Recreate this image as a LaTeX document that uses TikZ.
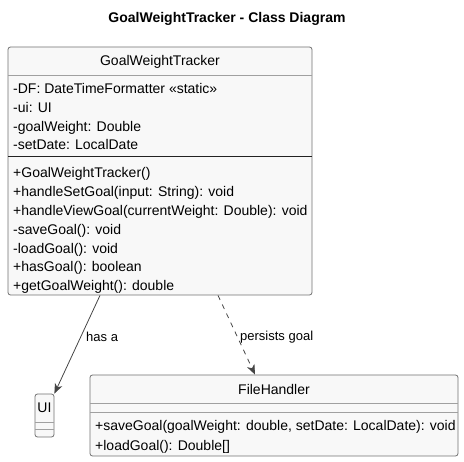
\documentclass[tikz,border=0pt]{standalone}
\usepackage{fontspec}
\setmainfont{Liberation Sans}
\usetikzlibrary{arrows.meta,calc}
\definecolor{boxfill}{HTML}{F8F8F8}
\definecolor{boxline}{HTML}{707070}
\definecolor{sepline}{HTML}{A0A0A0}
\definecolor{darksep}{HTML}{222222}
\definecolor{arrowcol}{HTML}{454545}
\tikzset{
  classbox/.style={draw=boxline, fill=boxfill, line width=0.8pt, rounded corners=2.5pt, inner sep=0pt},
  member/.style={anchor=base west, inner sep=0pt, font=\fontsize{14}{16}\selectfont},
  cname/.style={inner sep=0pt, font=\fontsize{14}{16}\selectfont},
  elabel/.style={anchor=west, inner sep=0pt, font=\fontsize{13}{15}\selectfont},
  lightsep/.style={draw=sepline, line width=0.7pt},
  darkline/.style={draw=darksep, line width=1pt},
  conn/.style={draw=arrowcol, line width=0.8pt, -{Stealth[length=10pt,width=8pt,inset=3pt]}},
}
\begin{document}
\begin{tikzpicture}[x=1pt,y=-1pt]
\useasboundingbox (0,0) rectangle (464,462);
\node[font=\bfseries\fontsize{14}{16}\selectfont, inner sep=0pt] (title) at (227,19) {GoalWeightTracker - Class Diagram};

% GoalWeightTracker
\node[classbox, minimum width=304pt, minimum height=248pt] (gwt) at (160,171) {};
\node[cname] (gwtname) at (160,62) {GoalWeightTracker};
\draw[lightsep] (8,75) -- (312,75);
\draw[darkline] (8,157) -- (312,157);
\node[member] (a1) at (13,93.5) {-DF: DateTimeFormatter «static»};
\node[member] (a2) at (13,112.3) {-ui: UI};
\node[member] (a3) at (13,131.1) {-goalWeight: Double};
\node[member] (a4) at (13,149.9) {-setDate: LocalDate};
\node[member] (m1) at (13,178) {+GoalWeightTracker()};
\node[member] (m2) at (13,196.8) {+handleSetGoal(input: String): void};
\node[member] (m3) at (13,215.6) {+handleViewGoal(currentWeight: Double): void};
\node[member] (m4) at (13,234.4) {-saveGoal(): void};
\node[member] (m5) at (13,253.2) {-loadGoal(): void};
\node[member] (m6) at (13,272) {+hasGoal(): boolean};
\node[member] (m7) at (13,290.8) {+getGoalWeight(): double};

% UI
\node[classbox, minimum width=19pt, minimum height=43pt] (ui) at (44.5,415.5) {};
\node[cname] (uiname) at (44.5,408) {UI};
\draw[lightsep] (35,422) -- (54,422);
\draw[lightsep] (35,429) -- (54,429);

% FileHandler
\node[classbox, minimum width=368pt, minimum height=81pt] (fh) at (274,415.5) {};
\node[cname] (fhname) at (274,389) {FileHandler};
\draw[lightsep] (90,403) -- (458,403);
\draw[lightsep] (90,412) -- (458,412);
\node[member] (f1) at (95,431) {+saveGoal(goalWeight: double, setDate: LocalDate): void};
\node[member] (f2) at (95,451) {+loadGoal(): Double[]};

% connectors
\draw[conn] ($(gwt.south)+(-60,0)$) -- (ui.north east);
\node[elabel] (l1) at (86,337) {has a};
\draw[conn, dashed, dash pattern=on 5pt off 5pt] ($(gwt.south)+(58,0)$) -- ($(fh.north)+(-19,0)$);
\node[elabel] (l2) at (240,337) {persists goal};
\end{tikzpicture}
\end{document}
